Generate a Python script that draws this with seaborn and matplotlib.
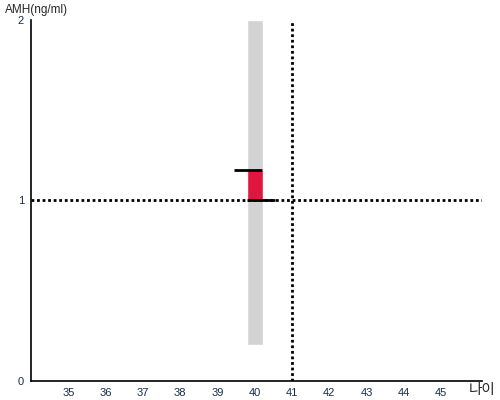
import matplotlib
matplotlib.use("Agg")
import matplotlib.pyplot as plt
import seaborn as sns
import pandas as pd

# data
ages = [40]
range_low = [0.2]
range_high = [2.0]
amh_value = [1.17]
ref_amh = 1.0
ref_age = 41
x_ticks = list(range(35, 46))
y_ticks = [0, 1, 2]

sns.set_theme(style="white")
plt.rcParams['font.family'] = ['Liberation Sans', 'Noto Sans CJK KR', 'DejaVu Sans']

fig = plt.figure(figsize=(5, 4), dpi=100)
ax = fig.add_axes([0.062, 0.048, 0.902, 0.902])

df = pd.DataFrame({"age": ages, "low": range_low, "high": range_high, "amh": amh_value})

# gray normal range bar
ax.bar(df["age"], df["high"] - df["low"], bottom=df["low"], width=0.43,
       color="#d3d3d3", zorder=1)
# red value box between reference and value
ax.bar(df["age"], df["amh"] - ref_amh, bottom=ref_amh, width=0.43,
       color="#e0163e", zorder=2)
# black caps
for a, v in zip(ages, amh_value):
    ax.hlines(v, a - 0.56, a + 0.2, color="black", lw=2, zorder=3)
    ax.hlines(ref_amh, a - 0.2, a + 0.55, color="black", lw=2, zorder=3)

# dotted reference lines
ax.axhline(ref_amh, color="black", ls=(0, (1, 1)), lw=2, zorder=2.5)
ax.axvline(ref_age, color="black", ls=(0, (1, 1)), lw=2, zorder=2.5)

ax.set_xlim(34, 46.1)
ax.set_ylim(0, 2)
ax.set_xticks(x_ticks)
ax.set_yticks(y_ticks)
ax.tick_params(axis="both", length=0, labelsize=8, pad=5)
ax.set_xticklabels([str(t) for t in x_ticks], color="#1a2a4a")
ax.set_yticklabels([str(t) for t in y_ticks], color="#1a2a4a")
for s in ["top", "right"]:
    ax.spines[s].set_visible(False)
for s in ["left", "bottom"]:
    ax.spines[s].set_color("black")
    ax.spines[s].set_linewidth(1.2)

fig.text(0.01, 0.975, "AMH(ng/ml)", fontsize=8.5, ha="left", va="center")
fig.text(0.99, 0.025, "나이", fontsize=10.5, ha="right", va="center",
         family=['Noto Sans CJK KR', 'DejaVu Sans'])

fig.savefig("out.png", dpi=100)
